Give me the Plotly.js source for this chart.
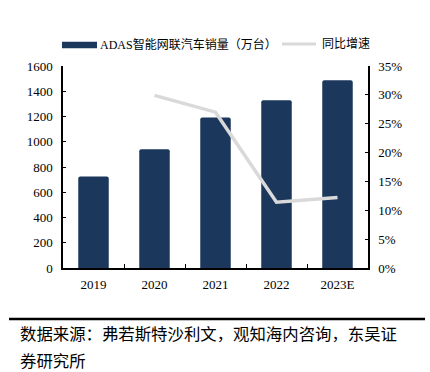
<!DOCTYPE html>
<html>
<head>
<meta charset="utf-8">
<script src="https://cdn.plot.ly/plotly-3.0.1.min.js"></script>
<style>
html,body{margin:0;padding:0;background:#fff;}
#chart{width:430px;height:372px;}
</style>
</head>
<body>
<div id="chart"></div>
<script>
const years = ['2019', '2020', '2021', '2022', '2023E'];
const sales = [724, 940, 1193, 1329, 1488];
const growthYears = ['2020', '2021', '2022', '2023E'];
const growth = [0.299, 0.270, 0.114, 0.122];
const salesName = 'ADAS智能网联汽车销量（万台）';
const growthName = '同比增速';
const leftTicks = [0, 200, 400, 600, 800, 1000, 1200, 1400, 1600];
const rightTicks = [0, 0.05, 0.10, 0.15, 0.20, 0.25, 0.30, 0.35];
const sourceLine1 = '数据来源：弗若斯特沙利文，观知海内咨询，东吴证';
const sourceLine2 = '券研究所';

const serif = '"Liberation Serif", "Times New Roman", serif';
const cjk = '"Liberation Serif", "Noto Sans CJK SC", serif';
const barColor = '#1b375c';
const lineColor = '#d9d9d9';

const traces = [
  {
    type: 'bar', x: years, y: sales, name: salesName,
    marker: {color: barColor, cornerradius: 2},
    yaxis: 'y', showlegend: false
  },
  {
    type: 'scatter', mode: 'lines', x: growthYears, y: growth, name: growthName,
    line: {color: lineColor, width: 3.5},
    yaxis: 'y2', showlegend: false
  }
];

const layout = {
  width: 430, height: 372,
  margin: {l: 63, r: 62, t: 66, b: 104},
  paper_bgcolor: '#fff', plot_bgcolor: '#fff',
  bargap: 0.5,
  showlegend: false,
  xaxis: {
    type: 'category',
    showline: true, linecolor: '#000', linewidth: 1.5,
    ticks: 'inside', tickson: 'boundaries', ticklen: 4, tickcolor: '#000',
    tickfont: {family: serif, size: 13, color: '#000'},
    showgrid: false, zeroline: false, ticklabelstandoff: 4
  },
  yaxis: {
    range: [0, 1600], tickvals: leftTicks,
    showline: true, linecolor: '#000', linewidth: 1.5,
    ticks: 'inside', ticklen: 3, tickcolor: '#000',
    tickfont: {family: serif, size: 13, color: '#000'},
    showgrid: false, zeroline: false, ticklabelstandoff: 6
  },
  yaxis2: {
    overlaying: 'y', side: 'right',
    range: [0, 0.35], tickvals: rightTicks, tickformat: '.0%',
    showline: true, linecolor: '#000', linewidth: 1.5,
    ticks: 'inside', ticklen: 3, tickcolor: '#000',
    tickfont: {family: serif, size: 13, color: '#000'},
    showgrid: false, zeroline: false, ticklabelstandoff: 6
  },
  shapes: [
    {type: 'rect', xref: 'paper', yref: 'paper', x0: -0.0033, x1: 0.1115, y0: 1.0876, y1: 1.1203,
     fillcolor: barColor, line: {width: 0}},
    {type: 'line', xref: 'paper', yref: 'paper', x0: 0.718, x1: 0.8295, y0: 1.1089, y1: 1.1089,
     line: {color: lineColor, width: 3}},
    {type: 'line', xref: 'paper', yref: 'paper', x0: -0.177, x1: 1.187, y0: -0.2525, y1: -0.2525,
     line: {color: '#000', width: 2.5}}
  ],
  annotations: [
    {xref: 'paper', yref: 'paper', x: 0.1148, y: 1.1089, xanchor: 'left', yanchor: 'middle',
     showarrow: false, text: salesName, font: {family: cjk, size: 12, color: '#000'}},
    {xref: 'paper', yref: 'paper', x: 0.8426, y: 1.1089, xanchor: 'left', yanchor: 'middle',
     showarrow: false, text: growthName, font: {family: cjk, size: 12, color: '#000'}},
    {xref: 'paper', yref: 'paper', x: -0.1475, y: -0.3218, xanchor: 'left', yanchor: 'middle',
     align: 'left', showarrow: false, text: sourceLine1,
     font: {family: '"Noto Sans CJK SC", sans-serif', size: 16.4, color: '#000'}},
    {xref: 'paper', yref: 'paper', x: -0.1475, y: -0.4554, xanchor: 'left', yanchor: 'middle',
     align: 'left', showarrow: false, text: sourceLine2,
     font: {family: '"Noto Sans CJK SC", sans-serif', size: 16.4, color: '#000'}}
  ]
};

Plotly.newPlot('chart', traces, layout, {displayModeBar: false, responsive: false});
</script>
</body>
</html>
